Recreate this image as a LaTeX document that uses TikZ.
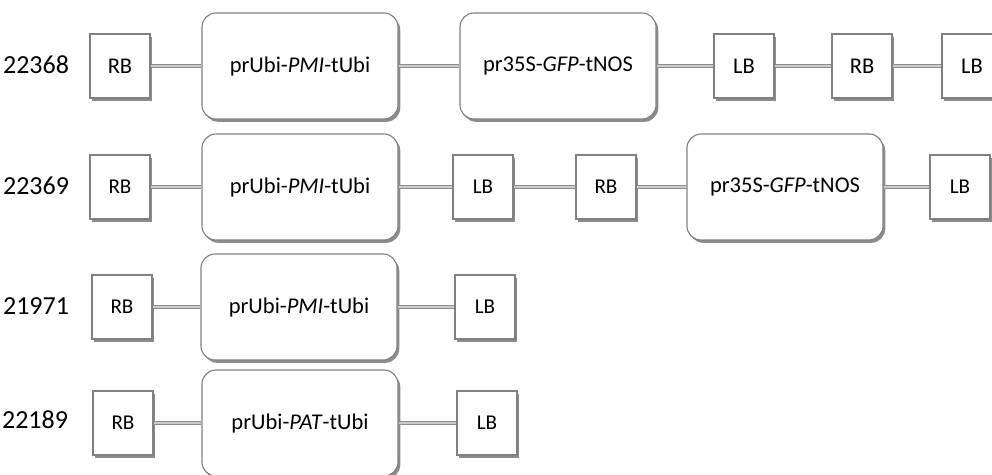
\documentclass[tikz,border=0pt]{standalone}
\usepackage{fontspec}
\setmainfont{Carlito}
\usetikzlibrary{shadows}

\begin{document}
\begin{tikzpicture}[x=0.025cm,y=-0.025cm,
  box/.style={draw=black!50,line width=0.8pt,fill=white,
    drop shadow={shadow xshift=1.6pt,shadow yshift=-2pt,fill=black!45,opacity=1}},
  border/.style={box,minimum width=1.5cm,minimum height=1.6cm,inner sep=0pt,font=\fontsize{15}{17}\selectfont},
  cassette/.style={box,rounded corners=10pt,minimum width=4.9cm,minimum height=2.65cm,font=\fontsize{16}{19}\selectfont},
  link/.style={draw=black!45,line width=0.7pt,double=black!20,double distance=1.2pt},
  lbl/.style={anchor=east,font=\fontsize{18.5}{21}\selectfont}]
\clip (0,0) rectangle (992,474);
% 22368
\node[lbl] (n1) at (74,65) {22368};
\node[border,font=\fontsize{16}{18}\selectfont] (rb1) at (120,66) {RB};
\node[cassette] (pmi1) at (300,66) {prUbi-\textit{PMI}-tUbi};
\node[cassette] (gfp1) at (558,66) {pr35S-\textit{GFP}-tNOS};
\node[border,font=\fontsize{16}{18}\selectfont] (lb1) at (744,66) {LB};
\node[border,font=\fontsize{16}{18}\selectfont] (rb1b) at (862,66) {RB};
\node[border,font=\fontsize{16}{18}\selectfont] (lb1b) at (972,66) {LB};
\draw[link] (rb1) -- (pmi1);
\draw[link] (pmi1) -- (gfp1);
\draw[link] (gfp1) -- (lb1);
\draw[link] (lb1) -- (rb1b);
\draw[link] (rb1b) -- (lb1b);
% 22369
\node[lbl] (n2) at (74,186) {22369};
\node[border] (rb2) at (120,187) {RB};
\node[cassette] (pmi2) at (300,187) {prUbi-\textit{PMI}-tUbi};
\node[border] (lb2) at (483,187) {LB};
\node[border] (rb2b) at (606,187) {RB};
\node[cassette] (gfp2) at (785,187) {pr35S-\textit{GFP}-tNOS};
\node[border] (lb2b) at (960,187) {LB};
\draw[link] (rb2) -- (pmi2);
\draw[link] (pmi2) -- (lb2);
\draw[link] (lb2) -- (rb2b);
\draw[link] (rb2b) -- (gfp2);
\draw[link] (gfp2) -- (lb2b);
% 21971
\node[lbl] (n3) at (74,306) {21971};
\node[border] (rb3) at (122,307) {RB};
\node[cassette] (pmi3) at (299,307) {prUbi-\textit{PMI}-tUbi};
\node[border] (lb3) at (485,307) {LB};
\draw[link] (rb3) -- (pmi3);
\draw[link] (pmi3) -- (lb3);
% 22189
\node[lbl] (n4) at (73,420) {22189};
\node[border] (rb4) at (123,423) {RB};
\node[cassette] (pat4) at (300,423) {prUbi-\textit{PAT}-tUbi};
\node[border] (lb4) at (487,423) {LB};
\draw[link] (rb4) -- (pat4);
\draw[link] (pat4) -- (lb4);
\end{tikzpicture}
\end{document}
